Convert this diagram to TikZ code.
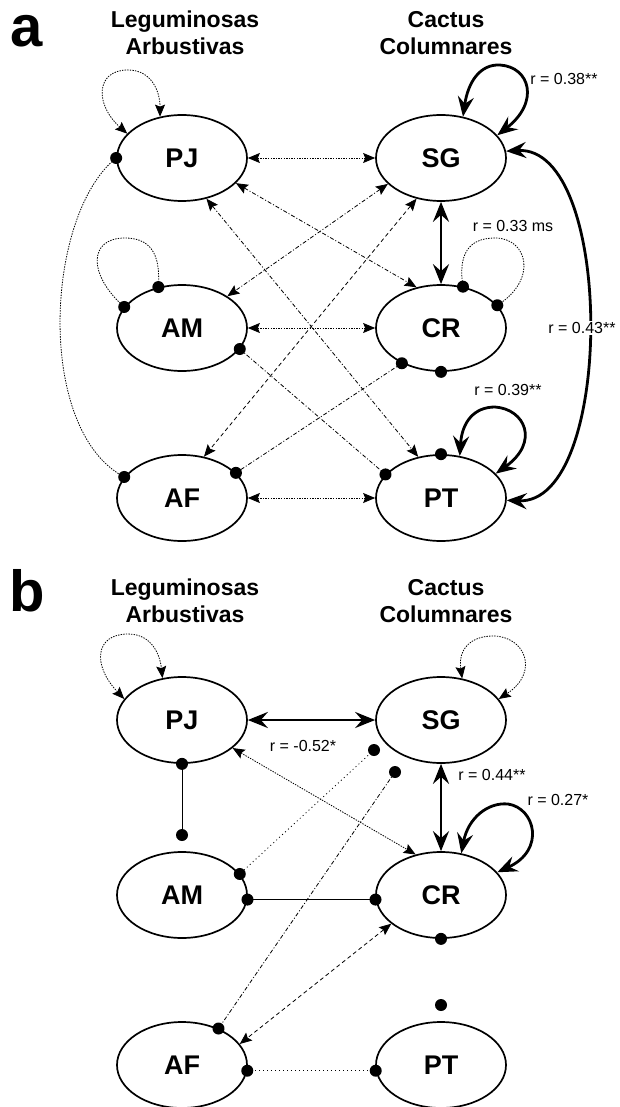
\documentclass[tikz,border=0pt]{standalone}
\usepackage{fontspec}
\setmainfont{Liberation Sans}
\usetikzlibrary{shapes.geometric,arrows.meta}
\begin{document}
\begin{tikzpicture}[x=1pt,y=-1pt,
  >={Stealth[length=12pt,width=10pt,inset=2pt]},
  taxon/.style={ellipse, draw, line width=1.7pt, minimum width=130pt,
    minimum height=86pt, inner sep=0pt, font=\fontsize{27}{30}\selectfont\bfseries},
  group/.style={align=center, inner sep=0pt, font=\fontsize{23}{27}\selectfont\bfseries},
  panel/.style={inner sep=0pt, font=\fontsize{58}{60}\selectfont\bfseries},
  corr/.style={inner sep=1.5pt, font=\fontsize{16}{18}\selectfont},
  weak/.style={line width=0.8pt, dash pattern=on 1.4pt off 1.2pt},
  dashdotline/.style={line width=0.8pt, dash pattern=on 4pt off 2pt on 1pt off 2pt},
  dashline/.style={line width=0.8pt, dash pattern=on 4pt off 3pt},
  sparse/.style={line width=0.8pt, dash pattern=on 1pt off 3pt},
  plain/.style={line width=0.9pt},
  strong/.style={line width=2.8pt, >={Stealth[length=20pt,width=16pt,inset=7pt]}},
  knob/.style={radius=6pt}
]
\useasboundingbox (0,0) rectangle (620,1107);

% ---------------- panel a ----------------
\node[panel] (labA) at (27,31) {a};
\node[group] (legA) at (185,33) {Leguminosas\\Arbustivas};
\node[group] (cacA) at (446,33) {Cactus\\Columnares};

\node[taxon] (PJa) at (182,158) {PJ};
\node[taxon] (SGa) at (441,158) {SG};
\node[taxon] (AMa) at (182,328) {AM};
\node[taxon] (CRa) at (441,328) {CR};
\node[taxon] (AFa) at (182,498) {AF};
\node[taxon] (PTa) at (441,498) {PT};

% horizontal links
\draw[weak,<->] (PJa.0) -- (SGa.180);
\draw[weak,<->] (AMa.0) -- (CRa.180);
\draw[weak,<->] (AFa.0) -- (PTa.180);

% crossing links
\draw[dashdotline,<->] (PJa.-25) -- (CRa.121);
\draw[dashdotline,<->] (PJa.-59) -- (PTa.119);
\draw[dashdotline,<->] (SGa.206) -- (AMa.35);
\draw[dashline,<->] (SGa.239) -- (AFa.62);
\draw[dashdotline] (AMa.-20) -- (PTa.157);
\fill[knob] (AMa.-20) circle; \fill[knob] (PTa.157) circle;
\draw[dashdotline] (CRa.222) -- (AFa.25);
\fill[knob] (CRa.222) circle; \fill[knob] (AFa.25) circle;
\draw[weak] (PJa.180) .. controls (45,215) and (35,430) .. (AFa.160);
\fill[knob] (PJa.180) circle; \fill[knob] (AFa.160) circle;

% self loops
\draw[weak,<->] (PJa.156) .. controls (95,105) and (95,70) .. (128,70)
  .. controls (152,70) and (160,92) .. (PJa.118);
\draw[weak] (AMa.160) .. controls (88,275) and (88,238) .. (125,238)
  .. controls (156,238) and (160,262) .. (AMa.120);
\fill[knob] (AMa.160) circle; \fill[knob] (AMa.120) circle;
\draw[weak] (CRa.62) .. controls (458,255) and (468,238) .. (495,238)
  .. controls (528,238) and (538,280) .. (CRa.22);
\fill[knob] (CRa.62) circle; \fill[knob] (CRa.22) circle;
\fill[knob] (CRa.270) circle; \fill[knob] (PTa.90) circle;

% significant links
\draw[strong,<->] (SGa.62) .. controls (468,82) and (480,64) .. (500,65)
  .. controls (530,67) and (540,102) .. (SGa.22);
\draw[strong,<->] (SGa.270) -- (CRa.90);
\draw[strong,<->] (SGa.6) .. controls (615,145) and (615,505) .. (PTa.-2);
\draw[strong,<->] (PTa.66) .. controls (462,422) and (474,407) .. (495,407)
  .. controls (525,409) and (540,442) .. (PTa.24);

\node[corr] (r38) at (564,79) {r = 0.38**};
\node[corr] (r33) at (513,226) {r = 0.33 ms};
\node[corr, fill=white] (r43) at (582,328) {r = 0.43**};
\node[corr] (r39) at (508,390) {r = 0.39**};

% ---------------- panel b ----------------
\node[panel] (labB) at (27,591) {b};
\node[group] (legB) at (185,601) {Leguminosas\\Arbustivas};
\node[group] (cacB) at (446,601) {Cactus\\Columnares};

\node[taxon] (PJb) at (182,720) {PJ};
\node[taxon] (SGb) at (441,720) {SG};
\node[taxon] (AMb) at (182,895) {AM};
\node[taxon] (CRb) at (441,895) {CR};
\node[taxon] (AFb) at (182,1065) {AF};
\node[taxon] (PTb) at (441,1065) {PT};

\coordinate (PJfree) at (182,835);
\coordinate (SGfreeA) at (374,750);
\coordinate (SGfreeB) at (395,772);
\coordinate (PTfree) at (441,1005);

\draw[weak,<->] (PJb.160) .. controls (92,665) and (95,634) .. (128,634)
  .. controls (152,634) and (160,655) .. (PJb.115);
\draw[weak,<->] (SGb.63) .. controls (458,650) and (470,636) .. (493,636)
  .. controls (525,636) and (540,672) .. (SGb.20);

\draw[strong,<->] (PJb.0) -- (SGb.180);
\draw[plain] (PJb.270) -- (PJfree);
\fill[knob] (PJb.270) circle; \fill[knob] (PJfree) circle;
\draw[weak,<->] (PJb.-29) -- (CRb.122);
\draw[sparse] (SGfreeA) -- (AMb.20);
\fill[knob] (SGfreeA) circle; \fill[knob] (AMb.20) circle;
\draw[dashdotline] (SGfreeB) -- (AFb.45);
\fill[knob] (SGfreeB) circle; \fill[knob] (AFb.45) circle;
\draw[strong,<->] (SGb.270) -- (CRb.90);
\draw[strong,<->] (CRb.64) .. controls (468,818) and (488,802) .. (508,804)
  .. controls (535,808) and (546,850) .. (CRb.22);
\draw[plain] (AMb.-4) -- (CRb.184);
\fill[knob] (AMb.-4) circle; \fill[knob] (CRb.184) circle;
\draw[dashline,<->] (CRb.210) -- (AFb.20);
\fill[knob] (CRb.270) circle; \fill[knob] (PTfree) circle;
\draw[sparse] (AFb.-5) -- (PTb.185);
\fill[knob] (AFb.-5) circle; \fill[knob] (PTb.185) circle;

\node[corr] (r52) at (303,746) {r = -0.52*};
\node[corr] (r44) at (492,775) {r = 0.44**};
\node[corr] (r27) at (558,800) {r = 0.27*};
\end{tikzpicture}
\end{document}
